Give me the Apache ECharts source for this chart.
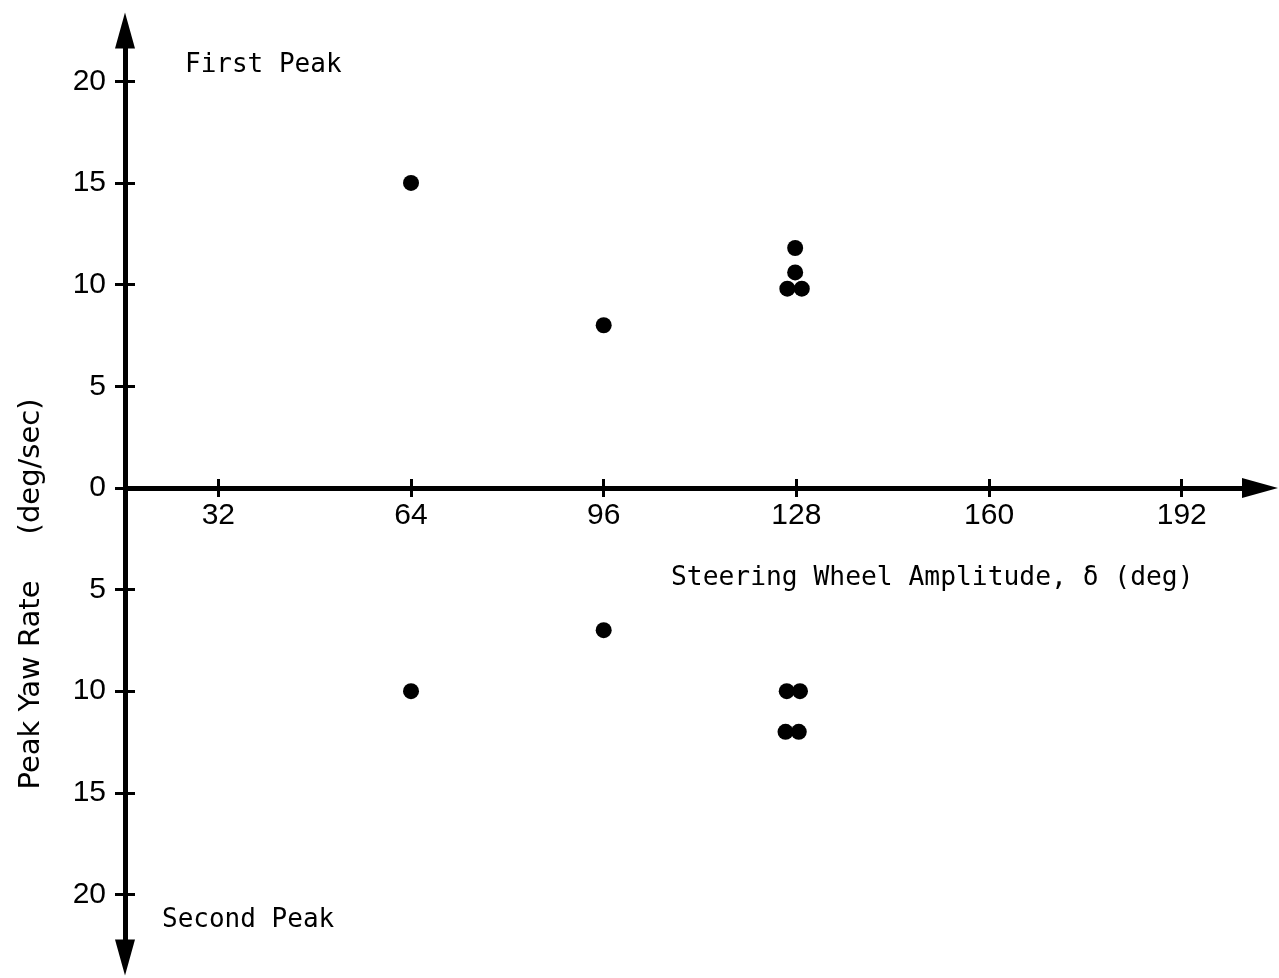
<!DOCTYPE html>
<html>
<head>
<meta charset="utf-8">
<title>Peak Yaw Rate vs Steering Wheel Amplitude</title>
<script src="https://cdn.jsdelivr.net/npm/echarts@6/dist/echarts.min.js"></script>
<style>
  html, body { margin: 0; padding: 0; background: #fff; }
  #chart { width: 1279px; height: 978px; }
</style>
</head>
<body>
<div id="chart"></div>
<script>
// Steering wheel amplitude (deg) and peak yaw rate (deg/sec)
// First peak plotted upward, second peak plotted downward (negative).
const amplitudeFirst = [64, 96, 127.8, 127.8, 126.5, 128.9];
const yawFirst = [15, 8, 11.8, 10.6, 9.8, 9.8];
const amplitudeSecond = [64, 96, 126.4, 128.6, 126.2, 128.4];
const yawSecond = [-10, -7, -10, -10, -12, -12];

const xTicks = [32, 64, 96, 128, 160, 192];
const yTicks = [-20, -15, -10, -5, 0, 5, 10, 15, 20];

const xRange = [16.5, 205];
const yRange = [-23.1, 22.5];

const ink = '#000';
const monoFont = '"DejaVu Sans Mono", monospace';
const numFont = '"Liberation Sans", Arial, sans-serif';

function pairs(xs, ys) {
  return xs.map((x, i) => [x, ys[i]]);
}

const chart = echarts.init(document.getElementById('chart'), null, { renderer: 'canvas' });

const tickStyle = { color: ink, width: 3 };

function buildOption(xOffset) {
  return {
    animation: false,
    backgroundColor: '#fff',
    grid: {
      left: 125, right: 19, top: 30.5, bottom: 20.5,
      containLabel: false, outerBoundsMode: 'none'
    },
    xAxis: [
      {
        type: 'value', min: xRange[0], max: xRange[1], position: 'bottom', offset: xOffset,
        axisLine: {
          onZero: false,
          lineStyle: { color: ink, width: 5 },
          symbol: ['none', 'triangle'],
          symbolSize: [20, 36]
        },
        axisTick: { customValues: xTicks, length: 9, lineStyle: tickStyle },
        axisLabel: {
          customValues: xTicks, margin: 13, color: ink,
          fontFamily: numFont, fontSize: 30
        },
        splitLine: { show: false }
      },
      {
        type: 'value', min: xRange[0], max: xRange[1], position: 'bottom', offset: xOffset,
        axisLine: { show: false, onZero: false },
        axisTick: { customValues: xTicks, inside: true, length: 9, lineStyle: tickStyle },
        axisLabel: { show: false },
        splitLine: { show: false }
      }
    ],
    yAxis: [
      {
        type: 'value', min: yRange[0], max: yRange[1], position: 'left',
        axisLine: {
          onZero: false,
          lineStyle: { color: ink, width: 5 },
          symbol: ['triangle', 'triangle'],
          symbolSize: [20, 36]
        },
        axisTick: { customValues: yTicks, length: 10, lineStyle: tickStyle },
        axisLabel: {
          customValues: yTicks, margin: 19, color: ink,
          fontFamily: numFont, fontSize: 30,
          formatter: v => String(Math.abs(v))
        },
        splitLine: { show: false }
      },
      {
        type: 'value', min: yRange[0], max: yRange[1], position: 'left',
        axisLine: { show: false, onZero: false },
        axisTick: { customValues: yTicks, inside: true, length: 10, lineStyle: tickStyle },
        axisLabel: { show: false },
        splitLine: { show: false }
      }
    ],
    series: [
      {
        name: 'First Peak', type: 'scatter',
        xAxisIndex: 0, yAxisIndex: 0,
        symbol: 'circle', symbolSize: 16,
        itemStyle: { color: ink, opacity: 1 },
        data: pairs(amplitudeFirst, yawFirst)
      },
      {
        name: 'Second Peak', type: 'scatter',
        xAxisIndex: 0, yAxisIndex: 0,
        symbol: 'circle', symbolSize: 16,
        itemStyle: { color: ink, opacity: 1 },
        data: pairs(amplitudeSecond, yawSecond)
      }
    ],
    graphic: [
      {
        type: 'text', x: 185, y: 65,
        style: { text: 'First Peak', font: '26px ' + monoFont, fill: ink,
                 textAlign: 'left', textVerticalAlign: 'middle' }
      },
      {
        type: 'text', x: 162, y: 920,
        style: { text: 'Second Peak', font: '26px ' + monoFont, fill: ink,
                 textAlign: 'left', textVerticalAlign: 'middle' }
      },
      {
        type: 'text', x: 671, y: 578,
        style: { text: 'Steering Wheel Amplitude, δ (deg)', font: '26.3px ' + monoFont, fill: ink,
                 textAlign: 'left', textVerticalAlign: 'middle' }
      },
      {
        type: 'text', x: 31, y: 594, rotation: Math.PI / 2,
        style: { text: 'Peak Yaw Rate     (deg/sec)', font: '29px "DejaVu Sans", sans-serif', fill: ink,
                 textAlign: 'center', textVerticalAlign: 'middle' }
      }
    ]
  };
}

// First pass lays out the grid; the horizontal axis is then lifted
// from the grid's bottom edge to the zero line of the yaw-rate scale.
chart.setOption(buildOption(0));
const zeroY = chart.convertToPixel({ yAxisIndex: 0 }, 0);
const bottomY = chart.convertToPixel({ yAxisIndex: 0 }, yRange[0]);
chart.setOption(buildOption(-(bottomY - zeroY)));
</script>
</body>
</html>
